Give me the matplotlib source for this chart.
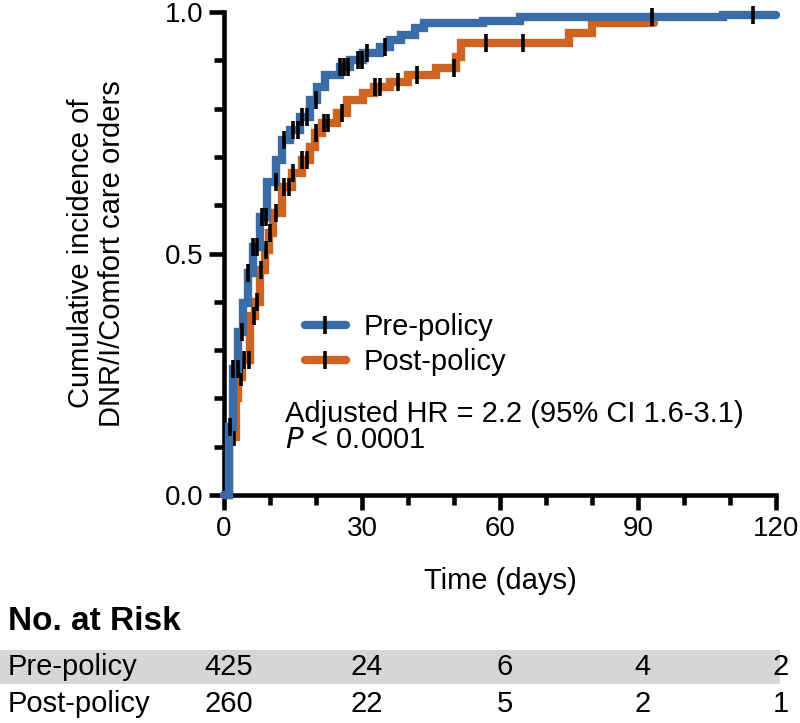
import numpy as np
import matplotlib
matplotlib.use("Agg")
import matplotlib.pyplot as plt
from matplotlib.lines import Line2D
from matplotlib.patches import Rectangle
import matplotlib.transforms as mtransforms

plt.rcParams['font.family'] = ['Liberation Sans', 'DejaVu Sans']

# ---- data ----
pre_t = [0, 1.0, 2.0, 3.1, 4.1, 5.2, 6.3, 7.8, 9.4, 11.3, 12.6, 14.3, 16.5, 18.7, 20.2,
         22.0, 25.2, 27.4, 30.2, 34.0, 36.0, 38.5, 41.5, 43.5, 56.3, 64.3, 108.5, 120]
pre_F = [0, 0.14, 0.26, 0.338, 0.397, 0.46, 0.514, 0.576, 0.649, 0.694, 0.735, 0.756, 0.783,
         0.818, 0.845, 0.87, 0.886, 0.90, 0.915, 0.928, 0.942, 0.952, 0.967, 0.977, 0.981,
         0.99, 0.994, 0.994]
post_t = [0, 1.0, 2.6, 3.0, 4.0, 5.6, 6.7, 7.8, 8.9, 9.7, 10.7, 12.6, 14.7, 16.9, 18.7,
          19.8, 21.3, 24.5, 26.7, 30.3, 32.5, 36.0, 40.0, 46.0, 50.5, 51.5, 75.0, 80.0, 93.5]
post_F = [0, 0.12, 0.2, 0.245, 0.28, 0.37, 0.40, 0.466, 0.507, 0.542, 0.584, 0.638, 0.666,
          0.694, 0.72, 0.749, 0.77, 0.79, 0.818, 0.832, 0.845, 0.855, 0.87, 0.884, 0.907,
          0.935, 0.956, 0.977, 0.977]
pre_cens = [1.2, 2.0, 3.0, 4.0, 5.2, 6.3, 7.1, 8.2, 9.1, 11.2, 13, 15, 16, 17, 18, 20,
            25.2, 26.1, 27, 29.2, 30.1, 31, 35, 93, 115]
post_cens = [2.2, 3.6, 4.3, 5.4, 6.5, 7.1, 8, 9.1, 10.1, 11.2, 13, 14.1, 15, 17, 18, 20,
             21.8, 22.7, 25.7, 32.9, 34, 37.8, 41.9, 50, 57, 65]
groups = ["Pre-policy", "Post-policy"]
risk_times = [0, 30, 60, 90, 120]
pre_risk = [425, 24, 6, 4, 2]
post_risk = [260, 22, 5, 2, 1]

blue = "#3A6CA8"
orange = "#CF6322"
FS = 20

fig = plt.figure(figsize=(8, 7.23), dpi=100)
ax = fig.add_axes([224/800, 1-495/723, (776-224)/800, (495-12)/723])

def cens_y(t, F, c):
    t = np.asarray(t); F = np.asarray(F)
    idx = np.searchsorted(t, c, side='right') - 1
    return F[idx]

for t, F, c, col, z in [(post_t, post_F, post_cens, orange, 2), (pre_t, pre_F, pre_cens, blue, 3)]:
    ax.step(t, F, where='post', color=col, lw=6, solid_capstyle='round',
            solid_joinstyle='miter', clip_on=False, zorder=z)
    ax.plot(c, cens_y(t, F, c), ls='none', marker='|', ms=13, mew=2.6, color='k',
            clip_on=False, zorder=z + 0.5)

ax.set_xlim(0, 120)
ax.set_ylim(0, 1.0)
ax.set_xticks(risk_times)
ax.set_xticks(np.arange(0, 121, 10), minor=True)
ax.set_yticks([0, 0.5, 1.0])
ax.set_yticklabels(["0.0", "0.5", "1.0"])
ax.set_yticks(np.arange(0, 1.01, 0.1), minor=True)
for s in ['top', 'right']:
    ax.spines[s].set_visible(False)
for s in ['left', 'bottom']:
    ax.spines[s].set_linewidth(3.3)
ax.tick_params(which='major', length=11, width=3.3, labelsize=FS, pad=4)
ax.tick_params(which='minor', length=7, width=3.3)
ax.set_xlabel("Time (days)", fontsize=21, labelpad=18)
ax.set_ylabel("Cumulative incidence of\nDNR/I/Comfort care orders", fontsize=21,
              labelpad=28, linespacing=1.1)

handles = [Line2D([], [], color=blue, lw=6, solid_capstyle='round', marker='|', ms=13,
                  mew=2.6, mec='k'),
           Line2D([], [], color=orange, lw=6, solid_capstyle='round', marker='|', ms=13,
                  mew=2.6, mec='k')]
ax.legend(handles, groups, loc='upper left', bbox_to_anchor=(305/800, 1-313/723),
          bbox_transform=fig.transFigure, frameon=False, fontsize=21, numpoints=1,
          handlelength=1.4, handletextpad=0.6, labelspacing=0.25, borderpad=0,
          borderaxespad=0)

ax.text(13.2, 0.152, "Adjusted HR = 2.2 (95% CI 1.6-3.1)", fontsize=21, va='baseline')
ax.text(13.2, 0.097, r"$\it{P}$ < 0.0001", fontsize=21, va='baseline')

# risk table
fig.text(8/800, 1-621/723, "No. at Risk", fontsize=24, fontweight='bold', va='center')
fig.patches.append(Rectangle((0, 1-684/723), 780/800, 34/723, transform=fig.transFigure,
                             facecolor='#D6D6D6', edgecolor='none', zorder=0))
trans = mtransforms.blended_transform_factory(ax.transData, fig.transFigure)
for row, (name, vals) in enumerate([(groups[0], pre_risk), (groups[1], post_risk)]):
    yy = 1 - (667 + row*37)/723
    fig.text(8/800, yy, name, fontsize=21, va='center')
    for tt, v in zip(risk_times, vals):
        fig.text(tt + 1, yy, str(v), fontsize=21, va='center', ha='center', transform=trans)

fig.savefig("out.png", dpi=100)
